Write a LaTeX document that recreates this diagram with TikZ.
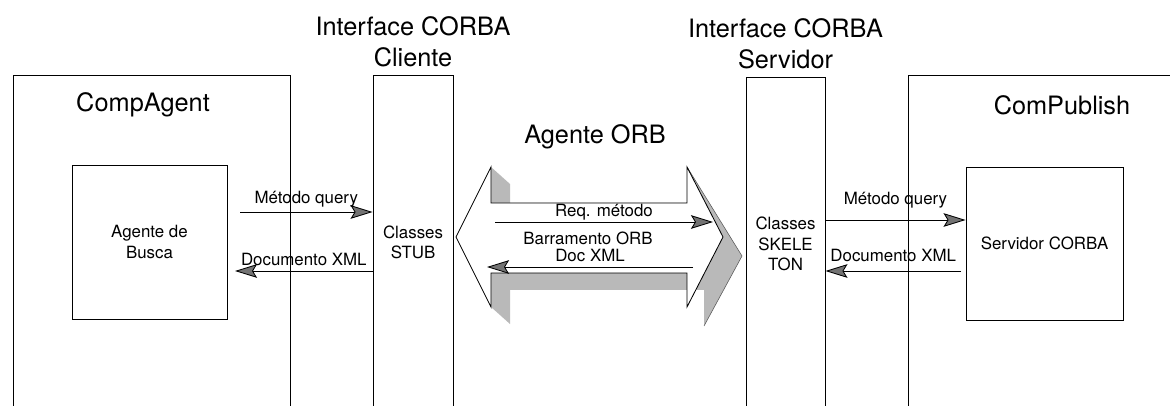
\documentclass[tikz,border=0pt]{standalone}
\usepackage{fontspec}
\setmainfont{TeX Gyre Heros}
\usetikzlibrary{arrows.meta,positioning,calc}

\tikzset{
  compbox/.style={draw, minimum height=8.35cm, inner sep=0pt},
  column/.style={draw, minimum height=8.35cm, align=center, inner sep=0pt},
  innerbox/.style={draw, align=center},
  bigtext/.style={font=\fontsize{18}{22}\selectfont, align=center, inner sep=2pt},
  msg/.style={-{Stealth[length=5.5mm, width=3.4mm, inset=1mm, fill=black!55]}},
}

\begin{document}
\begin{tikzpicture}[x=0.025cm, y=-0.025cm, line width=0.6pt,
  font=\fontsize{12}{14.4}\selectfont]
\clip (0,0) rectangle (1170,406);

% Components
\node[compbox, minimum width=6.925cm] (compagent) at (151.5,242) {};
\node[bigtext] (compagentlbl) at (143,105) {CompAgent};
\node[compbox, minimum width=7.3cm] (compublish) at (1054,242) {};
\node[bigtext] (compublishlbl) at (1062,105) {ComPublish};

\node[innerbox, minimum width=3.875cm, minimum height=3.85cm] (busca) at (149.5,242) {Agente de\\Busca};
\node[innerbox, minimum width=3.925cm, minimum height=3.825cm] (servidor) at (1044.5,243.5) {Servidor CORBA};

% CORBA interfaces
\node[column, minimum width=2cm] (stub) at (413,242) {Classes\\STUB};
\node[bigtext, above=3pt of stub] (stublbl) {Interface CORBA\\Cliente};
\node[column, minimum width=1.975cm] (skeleton) at (785.5,244) {Classes\\SKELE\\TON};
\node[bigtext, above=3pt of skeleton] (skeletonlbl) {Interface CORBA\\Servidor};

% ORB bus
\node[bigtext] (orblbl) at (595,137) {Agente ORB};
\fill[gray!55] (456,237) -- (491,167) -- (510,184) -- (510,203) -- (687,203) -- (687,167)
  -- (742,256) -- (704,326) -- (704,290) -- (510,290) -- (510,324)
  -- (491,307) -- cycle;
\draw[gray!70!black, line width=0.4pt] (687,167) -- (742,256) -- (704,326);
\draw[fill=white] (456,237) -- (491,167) -- (491,203) -- (687,203) -- (687,167)
  -- (723,237) -- (687,307) -- (687,273) -- (491,273) -- (491,307) -- cycle;
\node (bus) at (588,238) {Barramento ORB};

% Messages
\coordinate (q1) at (240,212);
\coordinate (x1) at (235,271);
\draw[msg] (q1) -- node[above] {Método query} (stub.west |- q1);
\draw[msg] (stub.west |- x1) -- node[above] {Documento XML} (x1);

\coordinate (rq) at (495,222);
\coordinate (rqend) at (713,222);
\coordinate (dx) at (693,267);
\coordinate (dxend) at (487,267);
\draw[msg] (rq) -- node[above, inner sep=1pt] {Req. método} (rqend);
\draw[msg] (dx) -- node[above] {Doc XML} (dxend);

\coordinate (q2) at (966,220);
\coordinate (x2) at (961,271);
\draw[msg] (skeleton.east |- q2) -- node[above=5pt] {Método query} (servidor.west |- q2);
\draw[msg] (x2) -- node[above=3pt] {Documento XML} (skeleton.east |- x2);
\end{tikzpicture}
\end{document}
